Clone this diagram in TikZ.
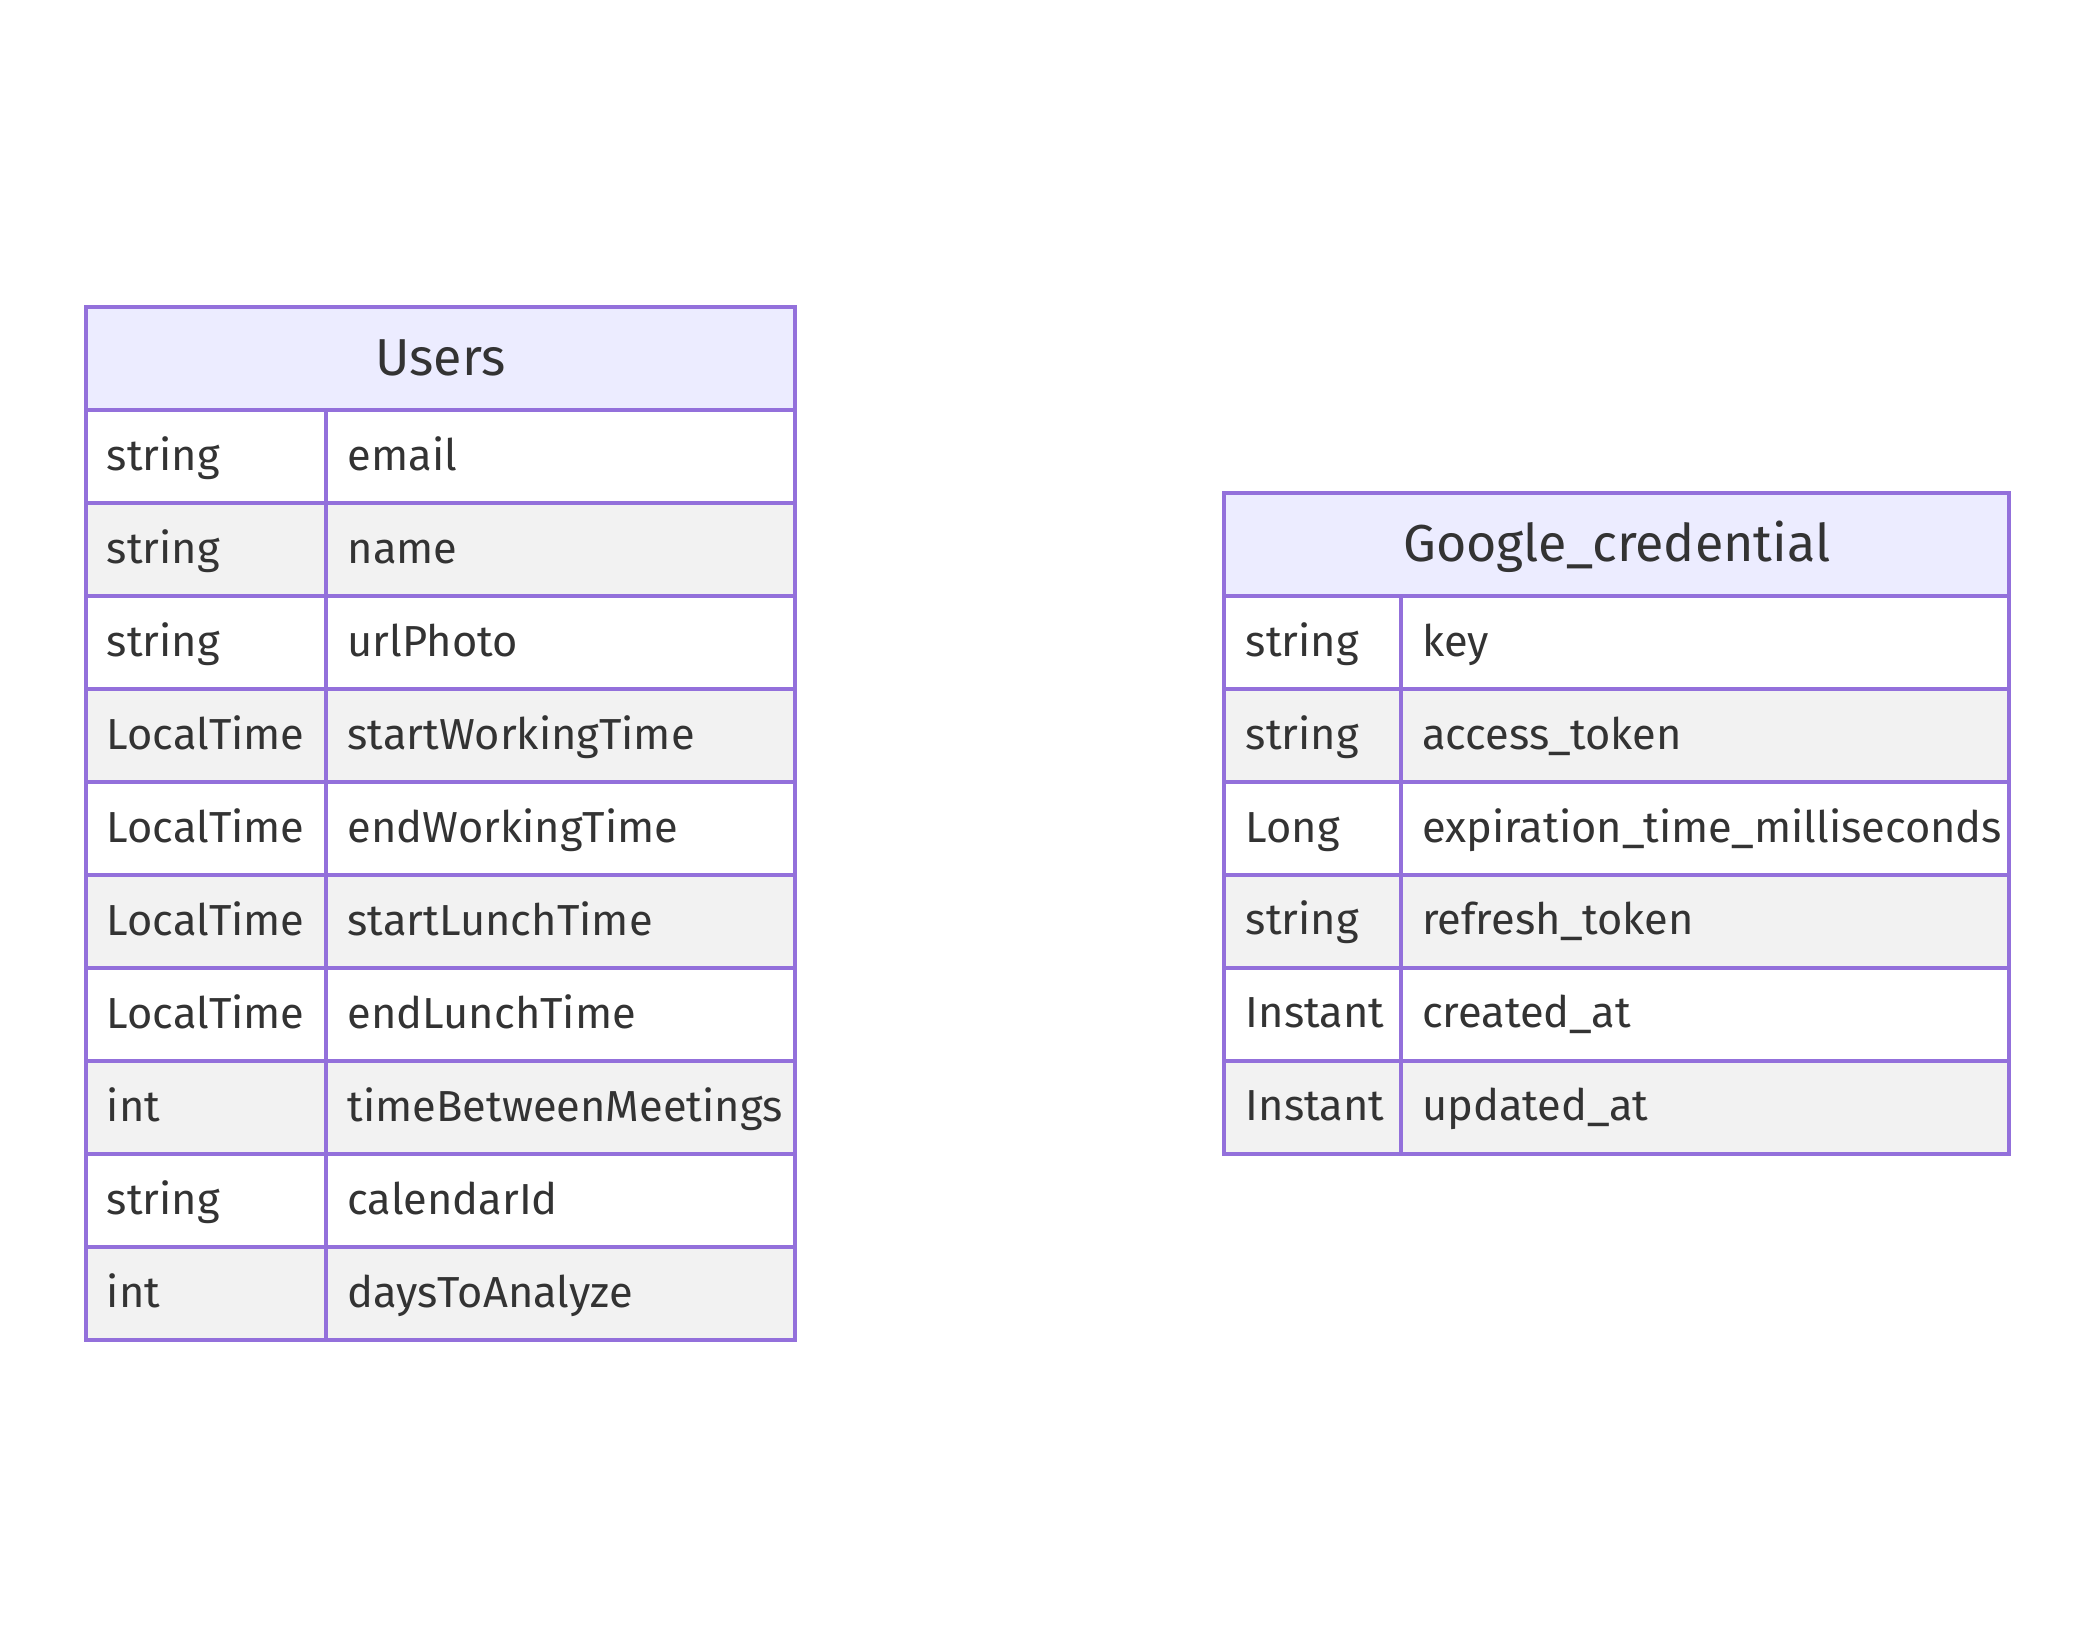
\documentclass[tikz,border=0pt]{standalone}
\usepackage{fontspec}
\setmainfont{Fira Sans}
\definecolor{erborder}{HTML}{9370DB}
\definecolor{erhead}{HTML}{ECECFF}
\definecolor{eroddrow}{HTML}{FFFFFF}
\definecolor{erevenrow}{HTML}{F2F2F2}
\definecolor{ertext}{HTML}{333333}
\tikzset{
  cell/.style={draw=erborder,line width=2pt},
  attr/.style={anchor=base west,text=ertext,inner sep=0pt,font=\fontsize{21.7}{26}\selectfont},
  title/.style={anchor=base,text=ertext,inner sep=0pt,font=\fontsize{26}{31}\selectfont},
}
\begin{document}
\begin{tikzpicture}[x=0.5pt,y=-0.5pt]
    \useasboundingbox (0,0) rectangle (2096,1649);
    % Users table
    \draw[cell,fill=erhead] (85.5,307.4) rectangle (795.3,410.4);
    \node[title] (users) at (440.4,375) {Users};
    \foreach [count=\i] \ty/\nm in {string/email, string/name, string/urlPhoto,
        LocalTime/startWorkingTime, LocalTime/endWorkingTime, LocalTime/startLunchTime,
        LocalTime/endLunchTime, int/timeBetweenMeetings, string/calendarId, int/daysToAnalyze} {
        \pgfmathsetmacro\rowtop{410.4+(\i-1)*93}
        \ifodd\i \def\rowcol{eroddrow}\else \def\rowcol{erevenrow}\fi
        \draw[cell,fill=\rowcol] (85.5,\rowtop) rectangle (326.2,\rowtop+93);
        \draw[cell,fill=\rowcol] (326.2,\rowtop) rectangle (795.3,\rowtop+93);
        \node[attr] (users-ty-\i) at (106.5,\rowtop+60) {\ty};
        \node[attr] (users-nm-\i) at (347.2,\rowtop+60) {\nm};
    }
    % Google_credential table
    \draw[cell,fill=erhead] (1224.4,493.2) rectangle (2009.1,596.2);
    \node[title] (google) at (1616.8,561) {Google\_credential};
    \foreach [count=\i] \ty/\nm in {string/key, string/access\_token,
        Long/expiration\_time\_milliseconds, string/refresh\_token,
        Instant/created\_at, Instant/updated\_at} {
        \pgfmathsetmacro\rowtop{596.2+(\i-1)*92.9}
        \ifodd\i \def\rowcol{eroddrow}\else \def\rowcol{erevenrow}\fi
        \draw[cell,fill=\rowcol] (1224.4,\rowtop) rectangle (1400.8,\rowtop+92.9);
        \draw[cell,fill=\rowcol] (1400.8,\rowtop) rectangle (2009.1,\rowtop+92.9);
        \node[attr] (google-ty-\i) at (1245.4,\rowtop+60) {\ty};
        \node[attr] (google-nm-\i) at (1421.8,\rowtop+60) {\nm};
    }
\end{tikzpicture}
\end{document}
